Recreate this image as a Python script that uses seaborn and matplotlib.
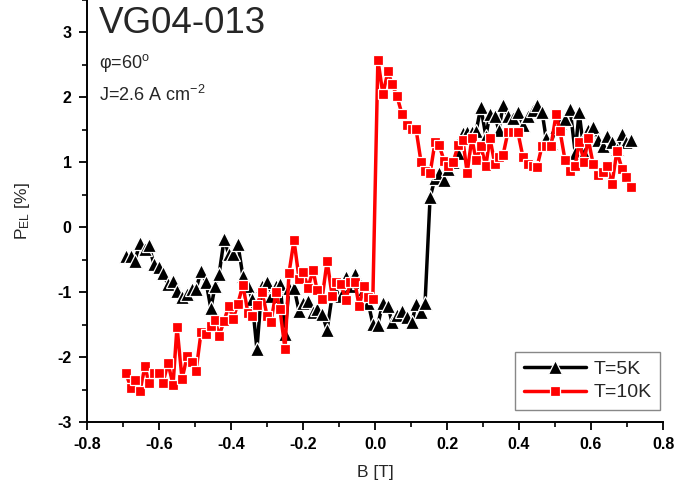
import matplotlib
matplotlib.use("Agg")
import matplotlib.pyplot as plt
import seaborn as sns
import pandas as pd
from matplotlib.ticker import MultipleLocator

# Magnetic field sweep [T]
B = [
    -0.692, -0.678, -0.667, -0.653, -0.639, -0.628, -0.614, -0.600, -0.589, -0.575,
    -0.561, -0.550, -0.536, -0.522, -0.508, -0.497, -0.483, -0.469, -0.456, -0.444,
    -0.433, -0.419, -0.406, -0.394, -0.381, -0.367, -0.353, -0.342, -0.328, -0.314,
    -0.300, -0.289, -0.275, -0.264, -0.250, -0.239, -0.225, -0.211, -0.200, -0.186,
    -0.172, -0.161, -0.147, -0.133, -0.119, -0.108, -0.094, -0.081, -0.069, -0.056,
    -0.044, -0.031, -0.019, -0.006, 0.008, 0.022, 0.036, 0.047, 0.061, 0.075,
    0.089, 0.103, 0.114, 0.128, 0.139, 0.153, 0.167, 0.178, 0.192, 0.203,
    0.217, 0.231, 0.244, 0.256, 0.269, 0.281, 0.294, 0.308, 0.319, 0.333,
    0.344, 0.356, 0.369, 0.383, 0.397, 0.411, 0.425, 0.439, 0.450, 0.464,
    0.475, 0.489, 0.503, 0.514, 0.528, 0.542, 0.556, 0.567, 0.581, 0.592,
    0.606, 0.619, 0.633, 0.644, 0.658, 0.672, 0.686, 0.697, 0.711,
]

# Electroluminescence polarization [%] at T = 5 K
P_5K = [
    -0.44, -0.45, -0.52, -0.24, -0.34, -0.28, -0.57, -0.62, -0.71, -0.88,
    -0.83, -0.98, -1.08, -1.03, -0.95, -0.95, -0.67, -0.85, -1.25, -0.90,
    -0.72, -0.18, -0.42, -0.42, -0.26, -0.75, -0.90, -1.10, -1.88, -0.90,
    -0.84, -1.06, -0.90, -0.88, -1.65, -0.93, -0.93, -1.29, -1.16, -1.13,
    -1.30, -1.26, -1.34, -1.58, -1.05, -1.00, -1.06, -0.77, -0.90, -0.72,
    -0.85, -0.95, -1.16, -1.49, -1.50, -1.16, -1.21, -1.46, -1.35, -1.29,
    -1.38, -1.46, -1.18, -1.31, -1.17, 0.46, 0.76, 0.83, 0.72, 0.89,
    1.00, 1.15, 1.45, 1.46, 1.46, 1.48, 1.85, 1.40, 1.74, 1.71,
    1.50, 1.89, 1.71, 1.69, 1.77, 1.58, 1.71, 1.80, 1.89, 1.78,
    1.38, 1.30, 1.55, 1.61, 1.66, 1.82, 1.15, 1.77, 1.15, 1.50,
    1.55, 1.35, 1.25, 1.40, 1.31, 1.20, 1.43, 1.31, 1.35,
]

# Electroluminescence polarization [%] at T = 10 K
P_10K = [
    -2.25, -2.47, -2.36, -2.53, -2.14, -2.40, -2.24, -2.24, -2.40, -2.09,
    -2.43, -1.53, -2.34, -1.99, -2.08, -2.21, -1.61, -1.65, -1.52, -1.43,
    -1.67, -1.44, -1.21, -1.41, -1.18, -0.89, -1.32, -1.37, -1.20, -0.99,
    -1.36, -1.46, -1.00, -1.26, -1.88, -0.71, -0.20, -0.79, -0.69, -0.93,
    -0.66, -0.97, -1.10, -0.52, -1.06, -0.85, -0.88, -1.12, -0.85, -0.84,
    -1.22, -0.91, -1.08, -1.10, 2.58, 2.05, 2.40, 2.21, 2.02, 1.74,
    1.57, 1.51, 1.51, 1.00, 0.86, 0.83, 1.32, 1.27, 1.02, 0.95,
    1.00, 1.26, 1.35, 0.84, 1.37, 1.03, 1.25, 0.94, 1.38, 0.97,
    1.08, 1.12, 1.46, 1.46, 1.46, 1.08, 0.97, 0.94, 0.93, 1.25,
    1.25, 1.25, 1.74, 1.48, 1.03, 0.86, 0.94, 1.32, 1.01, 1.37,
    0.97, 0.81, 0.85, 0.94, 0.66, 1.17, 0.90, 0.78, 0.62,
]

series_labels = ["T=5K", "T=10K"]
sample_name = "VG04-013"
angle_text = "φ=60$^{\\mathregular{o}}$"
current_text = "J=2.6 A cm$^{\\mathregular{-2}}$"

sns.set_style("ticks")
plt.rcParams["font.family"] = ["Liberation Sans", "DejaVu Sans"]
plt.rcParams["mathtext.fontset"] = "custom"
plt.rcParams["mathtext.rm"] = "Liberation Sans"
plt.rcParams["mathtext.it"] = "Liberation Sans:italic"
plt.rcParams["mathtext.bf"] = "Liberation Sans:bold"
plt.rcParams["axes.unicode_minus"] = False

df = pd.concat([
    pd.DataFrame({"B": B, "P": P_5K, "series": series_labels[0]}),
    pd.DataFrame({"B": B, "P": P_10K, "series": series_labels[1]}),
])

fig = plt.figure(figsize=(6.75, 4.93), dpi=100)
ax = fig.add_axes([87 / 675, 71 / 493, 576 / 675, 422 / 493])

styles = {
    series_labels[0]: dict(color="black", marker="^", markersize=9.5),
    series_labels[1]: dict(color="#ff0000", marker="s", markersize=7.5),
}
for name in series_labels:
    st = styles[name]
    sns.lineplot(data=df[df["series"] == name], x="B", y="P", ax=ax,
                 estimator=None, sort=False, color=st["color"],
                 marker=st["marker"], markersize=st["markersize"],
                 markeredgecolor="white", markeredgewidth=0.9,
                 linewidth=2.5, label=name)

ax.set_xlim(-0.8, 0.8)
ax.set_ylim(-3, 3.5)
ax.xaxis.set_minor_locator(MultipleLocator(0.1))
ax.yaxis.set_minor_locator(MultipleLocator(0.5))
ax.set_xticks([-0.8, -0.6, -0.4, -0.2, 0.0, 0.2, 0.4, 0.6, 0.8])
ax.set_yticks([-3, -2, -1, 0, 1, 2, 3])

sns.despine(ax=ax, top=True, right=True)
for side in ("left", "bottom"):
    ax.spines[side].set_linewidth(1.4)
    ax.spines[side].set_color("black")
ax.tick_params(which="major", direction="out", length=6, width=1.3,
               labelsize=11.5, colors="black", pad=5)
ax.tick_params(which="minor", direction="out", length=3.5, width=1.2,
               colors="black")
for lab in ax.get_xticklabels() + ax.get_yticklabels():
    lab.set_fontweight("bold")

ax.set_xlabel("B [T]", fontsize=12.5, labelpad=9)
ax.set_ylabel("P$_{\\mathregular{EL}}$ [%]", fontsize=12.5, labelpad=18)

ax.text(0.021, 0.922, sample_name, transform=ax.transAxes, fontsize=26.5,
        va="baseline", ha="left")
ax.text(0.021, 0.839, angle_text, transform=ax.transAxes, fontsize=13,
        va="baseline", ha="left")
ax.text(0.021, 0.761, current_text, transform=ax.transAxes, fontsize=13,
        va="baseline", ha="left")

leg = ax.legend(loc="lower right", bbox_to_anchor=(0.995, 0.028),
                borderaxespad=0, fontsize=14, frameon=True, fancybox=False,
                framealpha=1, edgecolor="#888888", handlelength=3.2,
                handletextpad=0.35, borderpad=0.45, labelspacing=0.3)
leg.get_frame().set_linewidth(1.0)

fig.savefig("out.png", dpi=100, facecolor="white")
